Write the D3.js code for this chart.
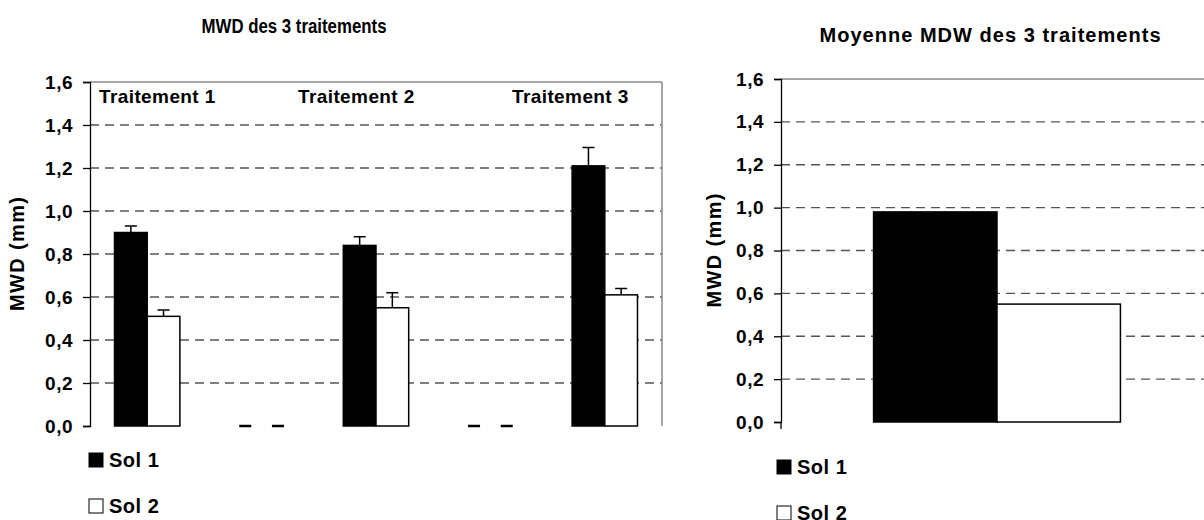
<!DOCTYPE html>
<html>
<head>
<meta charset="utf-8">
<script src="https://cdn.jsdelivr.net/npm/d3@7"></script>
<style>
  body { margin: 0; background: #fff; }
  text { font-family: "Liberation Sans", Arial, sans-serif; font-weight: bold; fill: #000; }
</style>
</head>
<body>
<svg id="canvas" width="1204" height="520"></svg>
<script>
// Data
let categories = ['Traitement 1', 'vide1', 'Traitement 2', 'vide2', 'Traitement 3']
let sol1 = [0.90, 0, 0.84, 0, 1.21]
let sol2 = [0.51, 0, 0.55, 0, 0.61]
let err1 = [0.03, 0, 0.04, 0, 0.085]
let err2 = [0.03, 0, 0.07, 0, 0.03]
let series = ['Sol 1', 'Sol 2']
let meanValues = [0.98, 0.55]
let yTicks = [0, 0.2, 0.4, 0.6, 0.8, 1.0, 1.2, 1.4, 1.6]

let canvas = d3.select('#canvas')
let fmt = d => d3.format('.1f')(d).replace('.', ',')
let colors = d3.scaleOrdinal().domain(series).range(['#000', '#fff'])

// draws the frame, grid and y axis of one panel
let drawFrame = (g, x0, x1, y, titleX) => {
    // dashed grid lines
    g.selectAll('.grid')
        .data(yTicks.filter(t => t > 0 && t < 1.6))
        .enter().append('line')
        .attr('x1', x0).attr('x2', x1)
        .attr('y1', d => y(d)).attr('y2', d => y(d))
        .attr('stroke', '#555').attr('stroke-width', 1.3)
        .attr('stroke-dasharray', '9,6')

    // grey top border and right border
    g.append('line').attr('x1', x0).attr('x2', x1).attr('y1', y(1.6)).attr('y2', y(1.6))
        .attr('stroke', '#888').attr('stroke-width', 1.5)
    g.append('line').attr('x1', x1).attr('x2', x1).attr('y1', y(1.6)).attr('y2', y(0))
        .attr('stroke', '#888').attr('stroke-width', 1.5)

    let axis = d3.axisLeft(y).tickValues(yTicks).tickFormat(fmt).tickSize(7).tickPadding(10)
    let ax = g.append('g').attr('transform', `translate(${x0},0)`).call(axis)
    ax.select('.domain').attr('stroke', '#000').attr('stroke-width', 1.3)
    ax.selectAll('.tick line').attr('stroke', '#000').attr('stroke-width', 1.3)
    ax.selectAll('.tick text')
        .style('font-family', '"Liberation Sans", Arial, sans-serif')
        .style('font-weight', 'bold').style('font-size', '19px').style('letter-spacing', '0.5px')
        .attr('fill', '#000')

    g.append('text')
        .attr('transform', `translate(${titleX},${(y(0) + y(1.6)) / 2}) rotate(-90)`)
        .attr('text-anchor', 'middle').attr('dy', '0.35em')
        .style('font-size', '20px')
        .attr('textLength', 114).attr('lengthAdjust', 'spacing')
        .text('MWD (mm)')
}

let drawLegend = (g, x, y0, gap) => {
    series.forEach((s, i) => {
        let yy = y0 + i * gap
        g.append('rect').attr('x', x).attr('y', yy - 14).attr('width', 14).attr('height', 14)
            .attr('fill', colors(s)).attr('stroke', '#000').attr('stroke-width', 1)
        g.append('text').attr('x', x + 20).attr('y', yy)
            .style('font-size', '20px').style('letter-spacing', '0.5px')
            .text(s)
    })
}

// ---------- left chart: the 3 treatments ----------
let drawLeft = () => {
    let g = canvas.append('g')
    let y = d3.scaleLinear().domain([0, 1.6]).range([426, 82])
    let x = d3.scaleBand().domain(categories).range([90, 662])
    let xs = d3.scaleBand().domain(series).range([0, x.bandwidth()]).paddingOuter(0.75)

    drawFrame(g, 90, 662, y, 17)

    let rows = []
    categories.forEach((c, i) => {
        rows.push({ cat: c, s: 'Sol 1', v: sol1[i], e: err1[i] })
        rows.push({ cat: c, s: 'Sol 2', v: sol2[i], e: err2[i] })
    })

    g.selectAll('.bar').data(rows.filter(d => d.v > 0)).enter().append('rect')
        .attr('x', d => x(d.cat) + xs(d.s))
        .attr('y', d => y(d.v))
        .attr('width', xs.bandwidth())
        .attr('height', d => y(0) - y(d.v))
        .attr('fill', d => colors(d.s))
        .attr('stroke', '#000').attr('stroke-width', 1.5)

    // error bars (upper only); empty categories keep a cap on the axis
    g.selectAll('.err').data(rows).enter().append('path')
        .attr('d', d => {
            let cx = x(d.cat) + xs(d.s) + xs.bandwidth() / 2
            let top = y(d.v + d.e)
            return `M${cx},${y(d.v)}V${top}M${cx - 6},${top}H${cx + 6}`
        })
        .attr('fill', 'none').attr('stroke', '#000')
        .attr('stroke-width', d => d.v > 0 ? 1.5 : 2.5)

    // treatment labels inside the plot
    let labels = [['Traitement 1', 99], ['Traitement 2', 298], ['Traitement 3', 512]]
    g.selectAll('.lab').data(labels).enter().append('text')
        .attr('x', d => d[1]).attr('y', 103)
        .style('font-size', '19px').style('letter-spacing', '0.4px')
        .text(d => d[0])

    g.append('text').attr('x', 294).attr('y', 33).attr('text-anchor', 'middle')
        .style('font-size', '21px')
        .attr('textLength', 185).attr('lengthAdjust', 'spacingAndGlyphs')
        .text('MWD des 3 traitements')

    drawLegend(g, 89, 467, 46)
}

// ---------- right chart: the mean ----------
let drawRight = () => {
    let g = canvas.append('g')
    let y = d3.scaleLinear().domain([0, 1.6]).range([422, 79])
    let x = d3.scaleBand().domain(['moyenne']).range([781, 1213])
    let xs = d3.scaleBand().domain(series).range([0, x.bandwidth()]).paddingOuter(0.75)

    drawFrame(g, 781, 1213, y, 714)

    // small tick below the axis origin
    g.append('line').attr('x1', 781).attr('x2', 781).attr('y1', y(0)).attr('y2', y(0) + 7)
        .attr('stroke', '#000').attr('stroke-width', 1.3)

    g.selectAll('.bar').data(series).enter().append('rect')
        .attr('x', (d) => x('moyenne') + xs(d))
        .attr('y', (d, i) => y(meanValues[i]))
        .attr('width', xs.bandwidth())
        .attr('height', (d, i) => y(0) - y(meanValues[i]))
        .attr('fill', d => colors(d))
        .attr('stroke', '#000').attr('stroke-width', 1.5)

    g.append('text').attr('x', 990).attr('y', 42).attr('text-anchor', 'middle')
        .style('font-size', '20px')
        .attr('textLength', 341).attr('lengthAdjust', 'spacing')
        .text('Moyenne MDW des 3 traitements')

    drawLegend(g, 777, 474, 46)
}

drawLeft()
drawRight()
</script>
</body>
</html>
